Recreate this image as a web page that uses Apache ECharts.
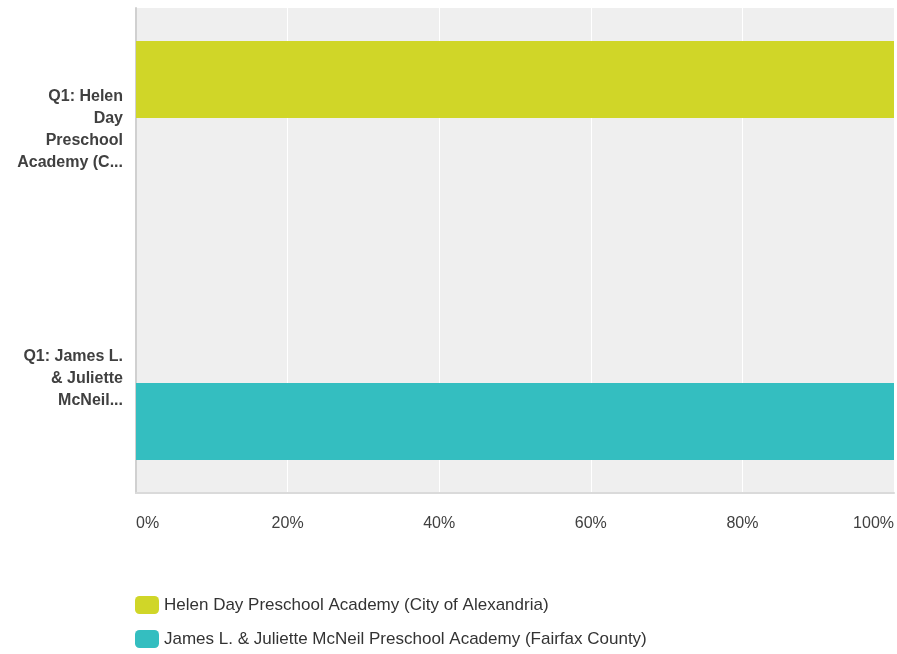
<!DOCTYPE html>
<html>
<head>
<meta charset="utf-8">
<script src="https://cdn.jsdelivr.net/npm/echarts@6/dist/echarts.min.js"></script>
<style>
html,body{margin:0;padding:0;background:#fff;}
#chart{width:897px;height:654px;}
</style>
</head>
<body>
<div id="chart"></div>
<script>
const categories = ["Q1: Helen\nDay\nPreschool\nAcademy (C...", "Q1: James L.\n& Juliette\nMcNeil..."];
const seriesNames = ["Helen Day Preschool Academy (City of Alexandria)", "James L. & Juliette McNeil Preschool Academy (Fairfax County)"];
const helenValues = [100, 0];
const jamesValues = [0, 100];
const xTicks = [0, 20, 40, 60, 80, 100];

const chart = echarts.init(document.getElementById('chart'));
const font = 'Liberation Sans, Arial, Helvetica, sans-serif';
chart.setOption({
  animation: false,
  color: ['#d0d628', '#34bec0'],
  grid: {left: 136, right: 2, top: 8, bottom: 161, show: true, backgroundColor: '#efefef', borderWidth: 0, containLabel: false},
  xAxis: {
    type: 'value', min: xTicks[0], max: xTicks[xTicks.length - 1], interval: 20,
    axisLine: {show: true, lineStyle: {color: '#dadada', width: 2}},
    axisTick: {show: false},
    splitLine: {show: true, lineStyle: {color: '#ffffff', width: 1}},
    axisLabel: {formatter: '{value}%', color: '#404040', fontSize: 16, fontFamily: font, margin: 23, alignMinLabel: 'left', alignMaxLabel: 'right'}
  },
  yAxis: {
    type: 'category', data: categories, inverse: true,
    axisLine: {show: true, lineStyle: {color: '#d0d0d0', width: 2}},
    axisTick: {show: false},
    axisLabel: {
      color: '#404040', fontSize: 16, fontWeight: 'bold', fontFamily: font, lineHeight: 22, align: 'right', margin: 13,
      formatter: function (value, index) {
        return index === 1 ? '{s| }\n' + value : value;
      },
      rich: {s: {fontSize: 10, lineHeight: 14, height: 14}}
    }
  },
  legend: {
    orient: 'vertical', left: 135, top: 596, padding: 0,
    itemWidth: 24, itemHeight: 18, itemGap: 16,
    icon: 'roundRect',
    textStyle: {color: '#333', fontSize: 17, fontFamily: font},
    data: seriesNames
  },
  series: [
    {name: seriesNames[0], type: 'bar', data: helenValues, barWidth: 77, barGap: '29%'},
    {name: seriesNames[1], type: 'bar', data: jamesValues, barWidth: 77, barGap: '29%'}
  ]
});
</script>
</body>
</html>
